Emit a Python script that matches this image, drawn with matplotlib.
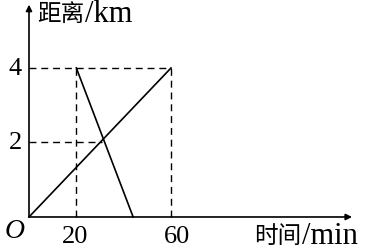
import matplotlib
matplotlib.use("Agg")
import matplotlib.pyplot as plt

# values
time_ticks = [20, 60]
dist_ticks = [2, 4]
walk_t = [0, 60]      # line from origin up to (60, 4)
walk_d = [0, 4]
back_t = [20, 44]     # line from (20, 4) down to the time axis
back_d = [4, 0]
meet_t = 31           # where the two lines cross, roughly
meet_d = 2

SERIF = ["Liberation Serif", "Noto Sans CJK SC"]
CJK = ["Noto Sans CJK SC", "DejaVu Sans"]

fig = plt.figure(figsize=(3.71, 2.53), dpi=100)
ax = fig.add_axes([0, 0, 1, 1])
ax.set_xlim(-12.25, 144.5)
ax.set_ylim(-0.94, 5.852)
ax.axis("off")

lw = 1.2
dash = dict(color="black", lw=1.0, linestyle=(0, (5, 3.5)))

# axes with arrows
ax.annotate("", xy=(136.5, 0), xytext=(0, 0),
            arrowprops=dict(arrowstyle="-|>", color="black", lw=lw,
                            mutation_scale=9, shrinkA=0, shrinkB=0))
ax.annotate("", xy=(0, 5.7), xytext=(0, 0),
            arrowprops=dict(arrowstyle="-|>", color="black", lw=lw,
                            mutation_scale=9, shrinkA=0, shrinkB=0))

# dashed guides
ax.plot([0, walk_t[1]], [dist_ticks[1], dist_ticks[1]], **dash)
ax.plot([time_ticks[0], time_ticks[0]], [0, dist_ticks[1]], **dash)
ax.plot([time_ticks[1], time_ticks[1]], [0, dist_ticks[1]], **dash)
ax.plot([0, meet_t], [meet_d, meet_d], **dash)

# the two graphs
ax.plot(walk_t, walk_d, color="black", lw=lw)
ax.plot(back_t, back_d, color="black", lw=lw)

# tick labels
for d in dist_ticks:
    ax.annotate(str(d), xy=(0, d), xytext=(-10, 0), textcoords="offset points",
                ha="center", va="center", fontsize=19, family=SERIF)
ax.annotate(str(time_ticks[0]), xy=(time_ticks[0], 0), xytext=(-1, -14),
            textcoords="offset points", ha="center", va="center",
            fontsize=19, family=SERIF)
ax.annotate(str(time_ticks[1]), xy=(time_ticks[1], 0), xytext=(4, -14),
            textcoords="offset points", ha="center", va="center",
            fontsize=19, family=SERIF)
ax.annotate("O", xy=(0, 0), xytext=(-10, -10), textcoords="offset points",
            ha="center", va="center", fontsize=20, family=SERIF, style="italic")

# axis titles
fig.text(37 / 371, 1 - 14 / 253, "距离", fontsize=17, family=CJK,
         ha="left", va="center")
fig.text(85 / 371, 1 - 14 / 253, "/km", fontsize=22, family=SERIF,
         ha="left", va="center")
fig.text(254 / 371, 1 - 237 / 253, "时间", fontsize=17, family=CJK,
         ha="left", va="center")
fig.text(302 / 371, 1 - 237 / 253, "/min", fontsize=22, family=SERIF,
         ha="left", va="center")

fig.savefig("out.png", dpi=100, facecolor="white")
